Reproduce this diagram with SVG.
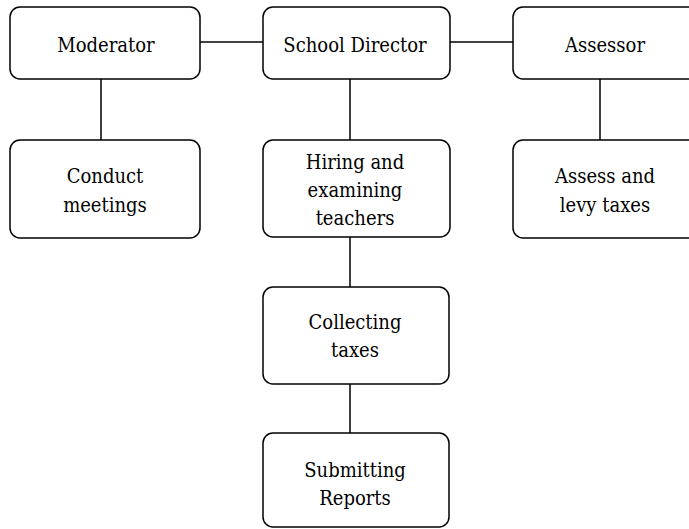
<svg xmlns="http://www.w3.org/2000/svg" width="689" height="529" viewBox="0 0 689 529">
<style>
.box{fill:#fff;stroke:#000;stroke-width:1.5}
.t{font-family:'DejaVu Serif Condensed','DejaVu Serif',serif;font-stretch:condensed;font-size:20px;fill:#000;text-anchor:middle}
.c{stroke:#000;stroke-width:1.5;fill:none}
</style>
<rect width="689" height="529" fill="#fff"/>
<g id="connectors">
<line class="c" x1="200" y1="42" x2="263" y2="42"/>
<line class="c" x1="450" y1="42" x2="513" y2="42"/>
<line class="c" x1="101" y1="79" x2="101" y2="140"/>
<line class="c" x1="350" y1="79" x2="350" y2="140"/>
<line class="c" x1="600" y1="79" x2="600" y2="140"/>
<line class="c" x1="350" y1="237" x2="350" y2="287"/>
<line class="c" x1="350" y1="384" x2="350" y2="433"/>
</g>
<g id="moderator"><rect class="box" x="10" y="7" width="190" height="72" rx="10"/><text class="t" x="106" y="52">Moderator</text></g>
<g id="school-director"><rect class="box" x="263" y="7" width="187" height="72" rx="10"/><text class="t" x="355" y="52">School Director</text></g>
<g id="assessor"><rect class="box" x="513" y="7" width="190" height="72" rx="10"/><text class="t" x="605" y="52">Assessor</text></g>
<g id="conduct-meetings"><rect class="box" x="10" y="140" width="190" height="98" rx="10"/><text class="t" x="105" y="183">Conduct</text><text class="t" x="105" y="212">meetings</text></g>
<g id="hiring"><rect class="box" x="263" y="140" width="187" height="97" rx="10"/><text class="t" x="355" y="169">Hiring and</text><text class="t" x="355" y="197">examining</text><text class="t" x="355" y="225">teachers</text></g>
<g id="assess-levy"><rect class="box" x="513" y="140" width="190" height="98" rx="10"/><text class="t" x="605" y="183">Assess and</text><text class="t" x="605" y="212">levy taxes</text></g>
<g id="collecting"><rect class="box" x="263" y="287" width="186" height="97" rx="10"/><text class="t" x="355" y="329">Collecting</text><text class="t" x="355" y="357">taxes</text></g>
<g id="submitting"><rect class="box" x="263" y="433" width="186" height="94" rx="10"/><text class="t" x="355" y="477">Submitting</text><text class="t" x="355" y="505">Reports</text></g>
</svg>
